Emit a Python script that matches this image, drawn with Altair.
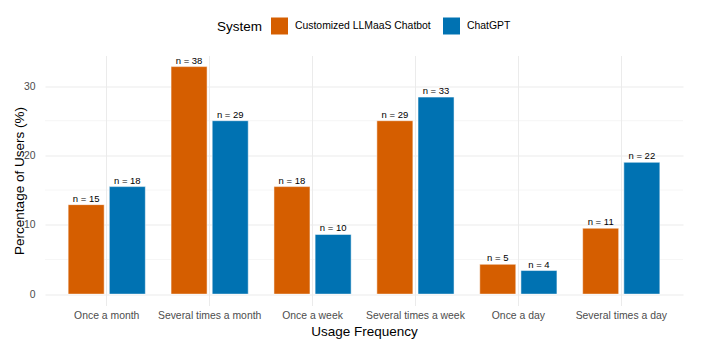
import altair as alt
import pandas as pd

categories = ["Once a month", "Several times a month", "Once a week",
              "Several times a week", "Once a day", "Several times a day"]
systems = ["Customized LLMaaS Chatbot", "ChatGPT"]
chatbot_pct = [12.9, 32.8, 15.5, 25.0, 4.3, 9.5]
chatgpt_pct = [15.5, 25.0, 8.6, 28.4, 3.4, 19.0]
chatbot_n = [15, 38, 18, 29, 5, 11]
chatgpt_n = [18, 29, 10, 33, 4, 22]
colors = ["#D55E00", "#0072B2"]
minor_grid = [5, 15, 25]

rows = []
for i, c in enumerate(categories):
    rows.append({"freq": c, "system": systems[0], "pct": chatbot_pct[i], "label": f"n = {chatbot_n[i]}"})
    rows.append({"freq": c, "system": systems[1], "pct": chatgpt_pct[i], "label": f"n = {chatgpt_n[i]}"})
df = pd.DataFrame(rows)

FONT = "Liberation Sans"

yscale = alt.Scale(domain=[-1.64, 34.4], nice=False, zero=False)
yaxis = alt.Axis(title="Percentage of Users (%)", values=[0, 10, 20, 30],
                 ticks=False, domain=False, grid=True, gridColor="#EBEBEB",
                 gridWidth=1, labelColor="#4D4D4D", labelFontSize=10.4,
                 labelPadding=10, titleFontSize=13.5, titleFontWeight="normal",
                 titleColor="#000000", titleX=-25.5, titleY=125, titleAngle=270,
                 titleBaseline="middle", titleAlign="center",
                 labelFont=FONT, titleFont=FONT)
xenc = alt.X("freq:N", sort=categories,
             scale=alt.Scale(paddingInner=0.2, paddingOuter=0.2),
             axis=alt.Axis(title="Usage Frequency", labelAngle=0, ticks=False, domain=False,
                           grid=True, bandPosition=0.5, gridColor="#EBEBEB", gridWidth=1,
                           labelColor="#4D4D4D", labelFontSize=10.4, labelPadding=5,
                           titleFontSize=13.5, titleFontWeight="normal", titleColor="#000000",
                           titlePadding=4, labelFont=FONT, titleFont=FONT))
xoff = alt.XOffset("system:N", sort=systems,
                   scale=alt.Scale(paddingInner=0.125, paddingOuter=0.0625))

minor = alt.Chart(pd.DataFrame({"pct": minor_grid})).mark_rule(
    color="#EBEBEB", strokeWidth=0.5
).encode(y=alt.Y("pct:Q", scale=yscale, axis=yaxis))

bars = alt.Chart(df).mark_bar(stroke="white", strokeWidth=0.5).encode(
    x=xenc,
    xOffset=xoff,
    y=alt.Y("pct:Q", scale=yscale, axis=yaxis),
    y2=alt.datum(0),
    color=alt.Color("system:N", sort=systems,
                    scale=alt.Scale(domain=systems, range=colors),
                    legend=alt.Legend(title="System", orient="none", legendX=172, legendY=-38,
                                      direction="horizontal", titleOrient="left",
                                      symbolType="square", symbolSize=289,
                                      symbolStrokeWidth=0, labelFontSize=10.4,
                                      titleFontSize=13.5, titleFontWeight="normal",
                                      titleColor="#000000", labelColor="#000000",
                                      titlePadding=8, labelOffset=7, columnPadding=12,
                                      labelFont=FONT, titleFont=FONT,
                                      labelLimit=300)),
)

text = alt.Chart(df).mark_text(baseline="bottom", dy=-1, fontSize=9.5,
                               font=FONT, color="#000000").encode(
    x=alt.X("freq:N", sort=categories),
    xOffset=alt.XOffset("system:N", sort=systems),
    y=alt.Y("pct:Q", scale=yscale),
    text="label:N",
)

chart = alt.layer(minor, bars, text).properties(
    width=638, height=250,
    padding={"left": 37, "top": 47.5, "right": 23, "bottom": 36},
    autosize=alt.AutoSizeParams(type="none"),
).configure(font=FONT).configure_view(stroke=None)

chart.save("out.html", embed_options={"renderer": "svg", "actions": False})
